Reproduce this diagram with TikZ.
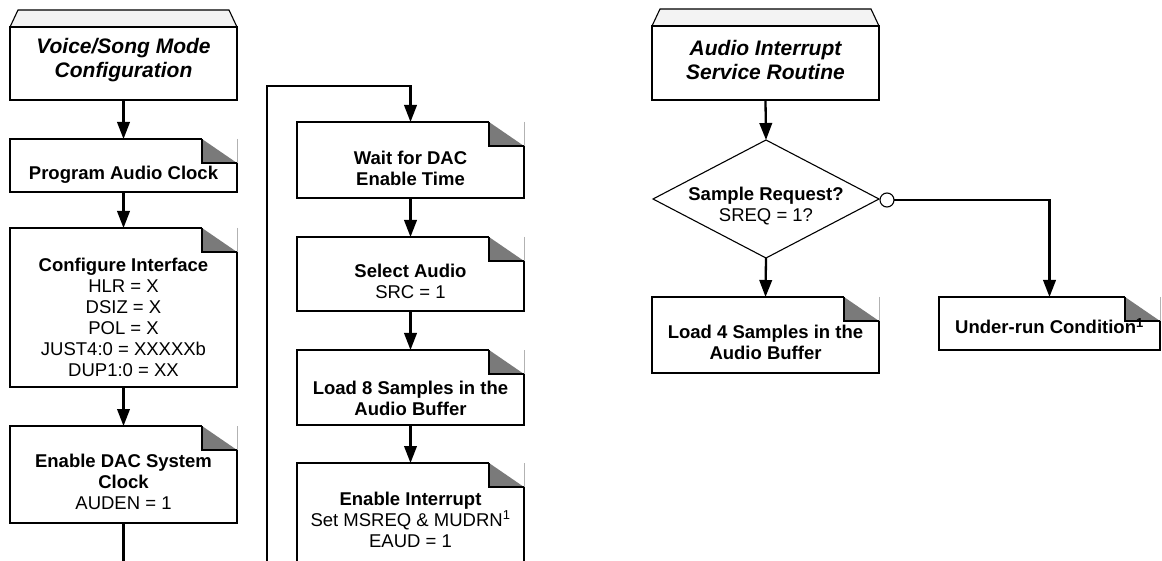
\documentclass[tikz,border=0pt]{standalone}
\usepackage{fontspec}
\setmainfont{Liberation Sans}
\usetikzlibrary{arrows.meta,calc,shapes.geometric}
\definecolor{foldgray}{HTML}{7A7A7A}
\definecolor{trapfill}{HTML}{F3F3F3}
\tikzset{
  boxn/.style={draw=none, inner sep=0pt, outer sep=0pt, minimum width=227pt},
  boxline/.style={line width=2.4pt, line join=miter},
  thinline/.style={line width=1.1pt},
  conn/.style={line width=2.3pt},
  arr/.style={conn, -{Triangle[length=17pt,width=12.5pt]}},
  txt/.style={align=center, inner sep=0pt, font=\fontsize{18.5}{21}\selectfont},
  btxt/.style={txt, font=\fontsize{18.5}{21}\selectfont\bfseries},
  ttl/.style={align=center, inner sep=0pt, font=\fontsize{21}{24}\selectfont\bfseries\itshape},
}
\newcommand\foldbox[1]{%
  \draw[boxline] ($(#1.north east)+(-35,0)$) -- (#1.north west) -- (#1.south west) -- (#1.south east) -- ($(#1.north east)+(0,24)$);
  \fill[foldgray] ($(#1.north east)+(-35,0)$) -- ($(#1.north east)+(-35,24)$) -- ($(#1.north east)+(0,24)$) -- cycle;
  \draw[boxline] ($(#1.north east)+(-35,0)$) -- ($(#1.north east)+(-35,24)$) -- ($(#1.north east)+(0,24)$);
  \draw[line width=0.7pt, black!30] (#1.north east) -- ($(#1.north east)+(0,24)$);
}
\newcommand\titlebox[1]{%
  \filldraw[fill=trapfill, thinline] (#1.north west) -- ($(#1.north west)+(8,-17)$) -- ($(#1.north east)+(-8,-17)$) -- (#1.north east) -- cycle;
  \draw[boxline] (#1.north west) rectangle (#1.south east);
}
\begin{document}
\begin{tikzpicture}[x=1pt, y=-1pt]
\clip (0,0) rectangle (1162,561);
\fill[white] (0,0) rectangle (1162,561);

% left column
\node[boxn, minimum height=73pt] (vs) at (123.5,63.5) {};
\node[boxn, minimum height=53pt] (pac) at (123.5,165.5) {};
\node[boxn, minimum height=159pt] (cfg) at (123.5,307.5) {};
\node[boxn, minimum height=97pt] (dac) at (123.5,474.5) {};
\coordinate (lend) at (123.5,575);

% middle column
\node[boxn, minimum height=76pt] (wait) at (410.5,160) {};
\node[boxn, minimum height=74pt] (sel) at (410.5,274) {};
\node[boxn, minimum height=75pt] (ld8) at (410.5,387.5) {};
\node[boxn, minimum height=137pt] (eint) at (410.5,531.5) {};
\coordinate (mbot) at (267,575);
\coordinate (mtop) at (267,86);

% right part
\node[boxn, minimum height=74pt] (isr) at (765.5,63) {};
\node[draw, thinline, diamond, aspect=1.915, minimum width=226pt, minimum height=118pt, inner sep=0pt, outer sep=0pt] (dia) at (766,199) {};
\node[draw, thinline, fill=white, circle, minimum size=14pt, inner sep=0pt, outer sep=0pt] (circ) at (887,200) {};
\node[boxn, minimum height=76pt] (ld4) at (765.5,335) {};
\node[boxn, minimum width=221pt, minimum height=53pt] (ur) at (1049.5,323.5) {};

% outlines
\titlebox{vs}
\titlebox{isr}
\foldbox{pac}
\foldbox{cfg}
\foldbox{dac}
\foldbox{wait}
\foldbox{sel}
\foldbox{ld8}
\foldbox{eint}
\foldbox{ld4}
\foldbox{ur}

% texts
\node[ttl] (vst) at (123.5,60) {Voice/Song Mode\\Configuration};
\node[btxt] (pact) at (123.5,175) {Program Audio Clock};
\node[txt] (cfgt) at (123.5,317) {\textbf{Configure Interface}\\HLR = X\\DSIZ = X\\POL = X\\JUST4:0 = XXXXXb\\DUP1:0 = XX};
\node[txt] (dact) at (123.5,481.5) {\textbf{Enable DAC System}\\\textbf{Clock}\\AUDEN = 1};
\node[btxt] (waitt) at (410.5,168.5) {Wait for DAC\\Enable Time};
\node[txt] (selt) at (410.5,281.5) {\textbf{Select Audio}\\SRC = 1};
\node[btxt] (ld8t) at (410.5,398.5) {Load 8 Samples in the\\Audio Buffer};
\node[txt] (eintt) at (410.5,519.5) {\textbf{Enable Interrupt}\\Set MSREQ \& MUDRN\textsuperscript{1}\\EAUD = 1};
\node[ttl] (isrt) at (765.5,60) {Audio Interrupt\\Service Routine};
\node[txt] (diat) at (766,206.5) {\textbf{Sample Request?}\\SREQ = 1?};
\node[btxt] (ld4t) at (765.5,342.5) {Load 4 Samples in the\\Audio Buffer};
\node[btxt] (urt) at (1049.5,326) {Under-run Condition\textsuperscript{1}};

% connectors
\draw[arr] (vs.south) -- (pac.north);
\draw[arr] (pac.south) -- (cfg.north);
\draw[arr] (cfg.south) -- (dac.north);
\draw[conn] (dac.south) -- (lend);
\draw[arr] (mbot) -- (mtop) -| (wait.north);
\draw[arr] (wait.south) -- (sel.north);
\draw[arr] (sel.south) -- (ld8.north);
\draw[arr] (ld8.south) -- (eint.north);
\draw[arr] (isr.south) -- (dia.north);
\draw[arr] (dia.south) -- (ld4.north);
\draw[arr] (circ.east) -| (ur.north);
\end{tikzpicture}
\end{document}
